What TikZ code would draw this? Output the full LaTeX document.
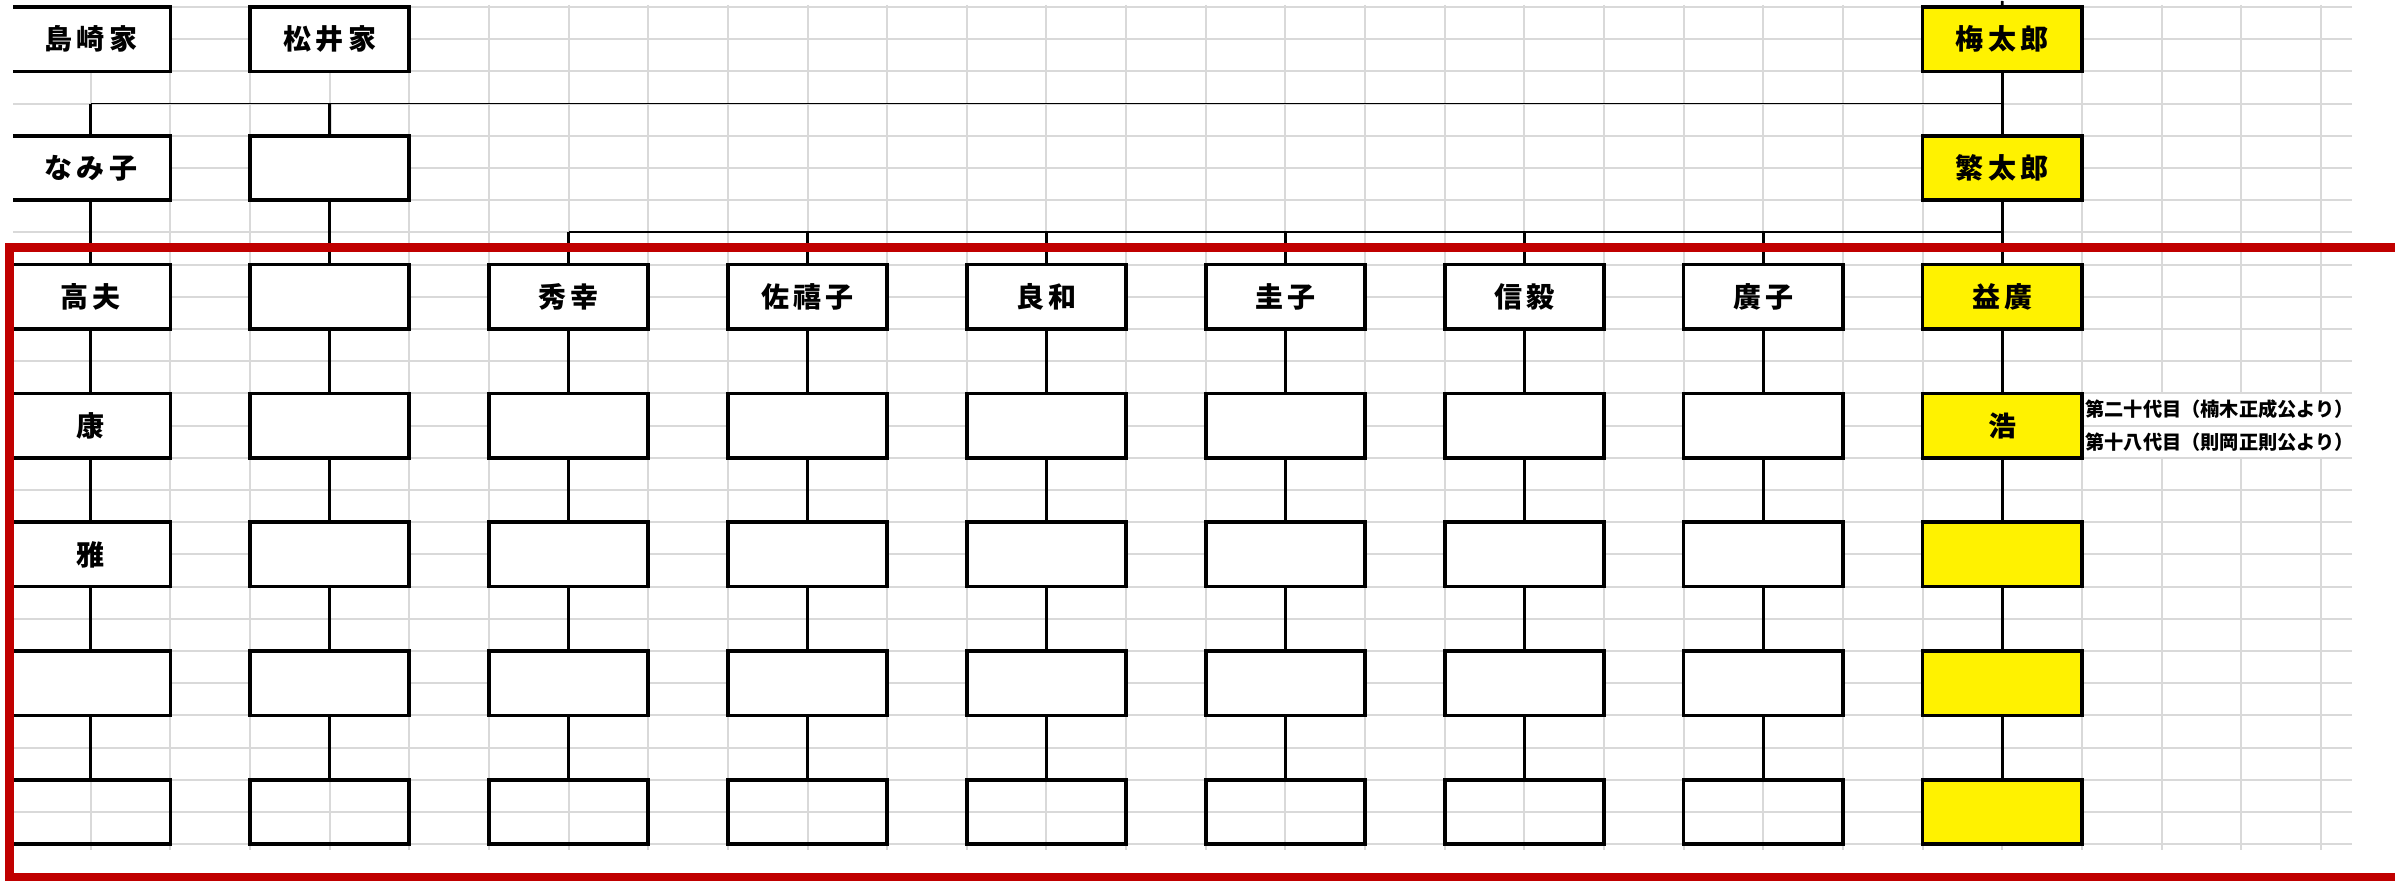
\documentclass[tikz,border=0pt]{standalone}
\usepackage{fontspec}
\newfontfamily\cjk[LetterSpace=16]{Noto Sans CJK JP}
\newfontfamily\cjknote{Noto Sans CJK JP}
\definecolor{gridgray}{HTML}{D9D9D9}
\definecolor{framered}{HTML}{C00000}
\newcommand\fbx[4]{\node[#1] (n-#2-#3) at ({11+79.65*(3*#3+1)},{7+32.2*(4*#2+1)}) {#4};}
\begin{document}
\begin{tikzpicture}[x=0.5pt,y=-0.5pt,
  gridline/.style={draw=gridgray,line width=1pt},
  box/.style={draw=black,line width=1.8pt,fill=white,minimum width=79.65pt,minimum height=32.2pt,inner sep=0pt,font=\cjk\bfseries\fontsize{14}{14}\selectfont},
  ybox/.style={box,fill=yellow},
  obox/.style={box,fill=none},
  vline/.style={line width=1.4pt},
  hline/.style={line width=0.9pt},
  note/.style={anchor=west,inner sep=0pt,font=\cjknote\bfseries\fontsize{9.6}{9.6}\selectfont},
  frame/.style={draw=framered,line width=4.5pt}]
\useasboundingbox (0,0) rectangle (2395,881);
\clip (0,0) rectangle (2395,881);
% grid
\foreach \k in {0,...,26} \draw[gridline] (11,{7+32.2*\k}) -- (2352,{7+32.2*\k});
\foreach \k in {0,...,26} \draw[gridline] ({11+79.65*\k},5) -- ({11+79.65*\k},850);
\foreach \k in {27,28,29} {
  \draw[gridline] ({11+79.65*\k},5) -- ({11+79.65*\k},394);
  \draw[gridline] ({11+79.65*\k},457) -- ({11+79.65*\k},850);
}
% boxes
\fbx{box}{0}{0}{島崎家} \fbx{box}{0}{1}{松井家} \fbx{ybox}{0}{8}{梅太郎}
\fbx{box}{1}{0}{なみ子} \fbx{box}{1}{1}{} \fbx{ybox}{1}{8}{繁太郎}
\fbx{box}{2}{0}{高夫} \fbx{box}{2}{1}{} \fbx{box}{2}{2}{秀幸} \fbx{box}{2}{3}{佐禧子}
\fbx{box}{2}{4}{良和} \fbx{box}{2}{5}{圭子} \fbx{box}{2}{6}{信毅} \fbx{box}{2}{7}{廣子}
\fbx{ybox}{2}{8}{益廣}
\fbx{box}{3}{0}{康} \foreach \i in {1,...,7} {\fbx{box}{3}{\i}{}} \fbx{ybox}{3}{8}{浩}
\fbx{box}{4}{0}{雅} \foreach \i in {1,...,7} {\fbx{box}{4}{\i}{}} \fbx{ybox}{4}{8}{}
\foreach \i in {0,...,7} {\fbx{box}{5}{\i}{}} \fbx{ybox}{5}{8}{}
\foreach \i in {0,...,7} {\fbx{obox}{6}{\i}{}} \fbx{ybox}{6}{8}{}
% notes
\node[note] (note1) at (2085,409.6) {第二十代目（楠木正成公より）};
\node[note] (note2) at (2085,441.8) {第十八代目（則岡正則公より）};
% connectors
\coordinate (u) at (2002.3,1);
\draw[vline] (u) -- (n-0-8.north);
\coordinate (t0) at (90.65,103.6);
\coordinate (t1) at (329.6,103.6);
\coordinate (t8) at (2002.3,103.6);
\draw[hline] (t0) -- (t8);
\draw[vline] (t0) -- (n-1-0.north);
\draw[vline] (t1) -- (n-1-1.north);
\draw[vline] (n-0-8.south) -- (n-1-8.north);
\foreach \i in {2,...,8} \coordinate (s\i) at ({11+79.65*(3*\i+1)},232.4);
\draw[hline] (s2) -- (s8);
\foreach \i in {2,...,7} \draw[vline] (s\i) -- (n-2-\i.north);
\draw[vline] (n-1-8.south) -- (n-2-8.north);
\draw[vline] (n-1-0.south) -- (n-2-0.north);
\draw[vline] (n-1-1.south) -- (n-2-1.north);
\foreach \r/\rr in {2/3,3/4,4/5,5/6}
  \foreach \i in {0,...,8} \draw[vline] (n-\r-\i.south) -- (n-\rr-\i.north);
% left crop and red frame
\fill[white] (-1,-1) rectangle (12.5,882);
\draw[frame] (9.5,248) rectangle (2440,877);
\end{tikzpicture}
\end{document}
